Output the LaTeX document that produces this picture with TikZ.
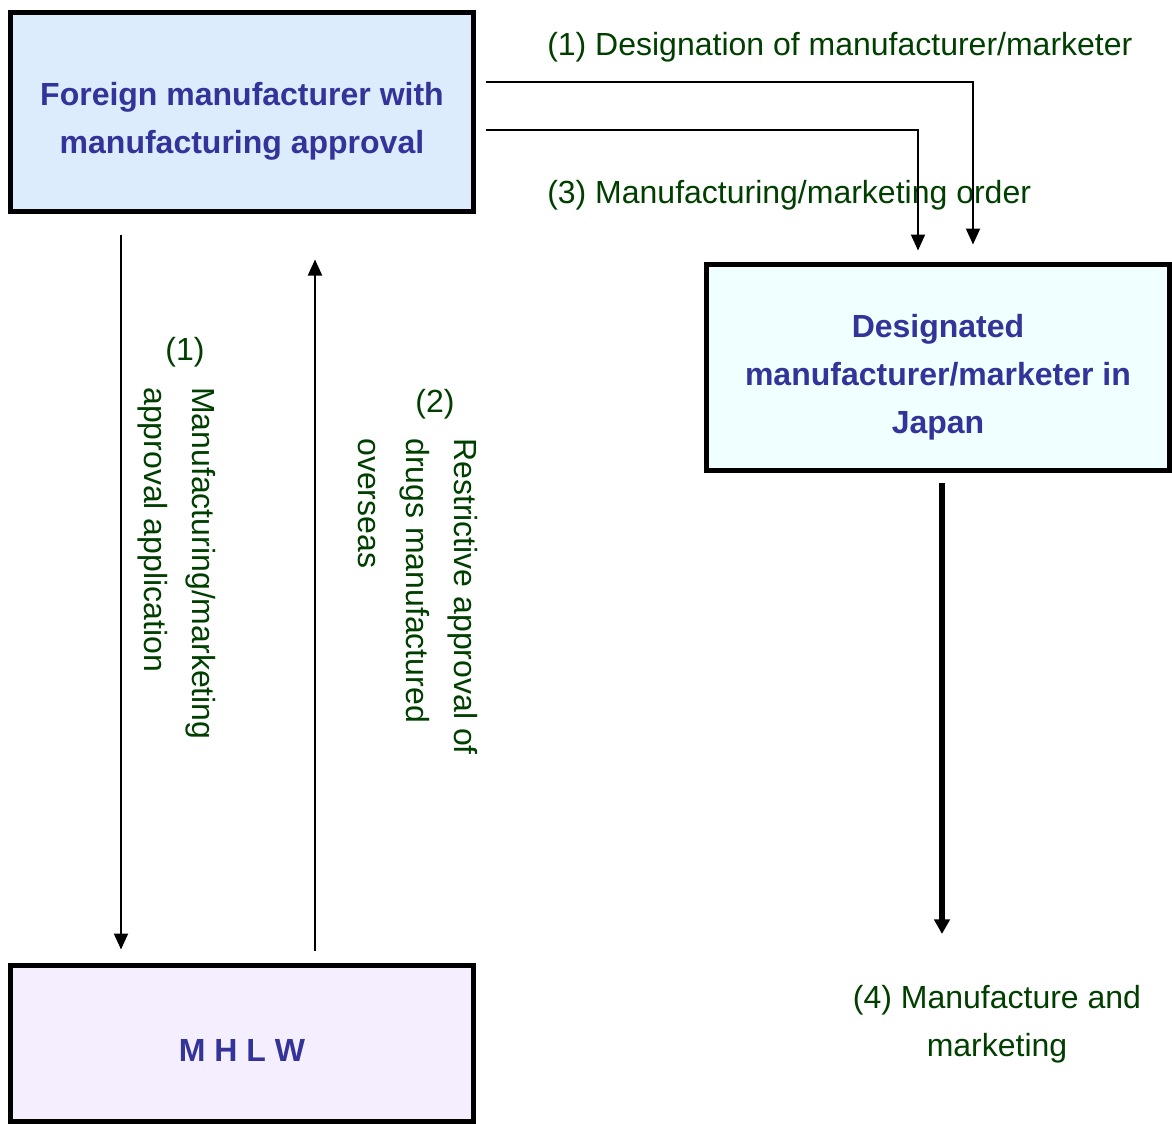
\documentclass[tikz,border=0pt]{standalone}
\usepackage{fontspec}
\setmainfont{Liberation Sans}
\usepackage{xcolor}
\usepackage{tikz}
\usetikzlibrary{arrows.meta}
\usetikzlibrary{calc}

\definecolor{boxtext}{HTML}{333399}
\definecolor{labeltext}{HTML}{003F00}
\definecolor{foreignfill}{HTML}{DCECFC}
\definecolor{japanfill}{HTML}{F0FFFF}
\definecolor{mhlwfill}{HTML}{F5EEFE}

\begin{document}
\begin{tikzpicture}[x=0.75pt, y=-0.75pt,
  box/.style={rectangle, draw=black, line width=3.75pt, inner sep=0pt,
    align=center, text=boxtext,
    font=\bfseries\fontsize{24pt}{36pt}\selectfont},
  lbl/.style={text=labeltext, inner sep=0pt,
    font=\fontsize{24pt}{36pt}\selectfont},
  flow/.style={line width=1.5pt, -{Triangle[length=12pt,width=10.5pt]}}]
  \useasboundingbox (0,0) rectangle (1172,1124);

  \node[box, fill=foreignfill,
  minimum width=347.25pt,
  minimum height=149.25pt] (FM) at (242,112) {\rule{0pt}{31pt}Foreign manufacturer with\\manufacturing approval};
  \node[box, fill=japanfill,
  minimum width=347.25pt,
  minimum height=154.5pt] (DM) at (938,367.5) {\rule{0pt}{32.5pt}Designated\\manufacturer/marketer in\\Japan};
  \node[box, fill=mhlwfill,
  minimum width=347.25pt,
  minimum height=117pt] (MH) at (242,1043.5) {\rule{0pt}{27pt}M H L W};

  \node[lbl, anchor=west] (d1) at (547,47) {(1) Designation of manufacturer/marketer};
  \node[lbl, anchor=west] (d3) at (547,195) {(3) Manufacturing/marketing order};
  \node[lbl] (a1) at (185,352) {(1)};
  \node[lbl, rotate=-90, anchor=west, align=left] (a1t) at (177,387) {Manufacturing/marketing\\approval application};
  \node[lbl] (a2) at (435,404) {(2)};
  \node[lbl, rotate=-90, anchor=west, align=left] (a2t) at (418,438) {Restrictive approval of\\drugs manufactured\\overseas};
  \node[lbl, align=center] (mm) at (997,1024) {(4) Manufacture and\\marketing};
  \coordinate (mmtop) at (942,934);

  \draw[flow] ($(FM.east)+(9.5,-30)$) -| ($(DM.north)+(35,-17.5)$);
  \draw[flow] ($(FM.east)+(9.5,18)$) -| ($(DM.north)+(-20,-11.5)$);
  \draw[flow] ($(FM.south)+(-121,20.5)$) -- ($(MH.north)+(-121,-13.5)$);
  \draw[flow] ($(MH.north)+(73,-12.5)$) -- ($(FM.south)+(73,45.5)$);
  \draw[line width=4.5pt, -{Triangle[length=11pt,width=11.5pt]}] ($(DM.south)+(4,9.5)$) -- (mmtop);
\end{tikzpicture}
\end{document}
